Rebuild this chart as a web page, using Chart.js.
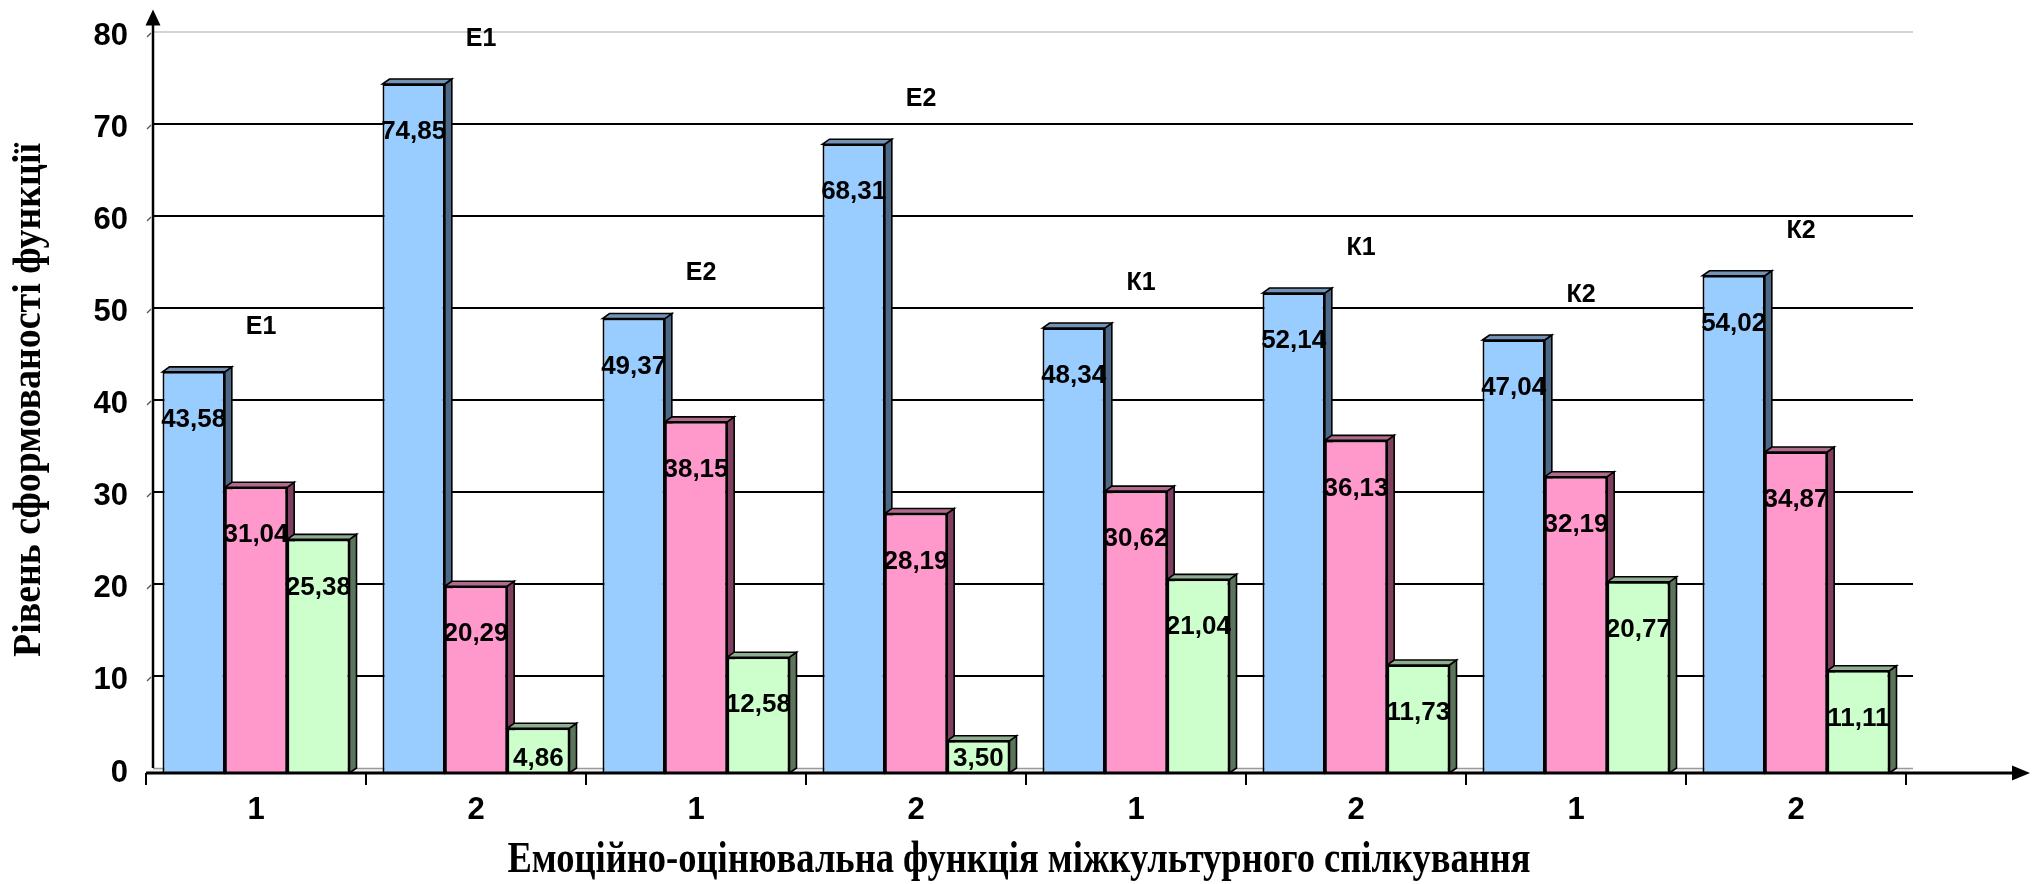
<!DOCTYPE html>
<html lang="uk">
<head>
<meta charset="utf-8">
<title>Емоційно-оцінювальна функція міжкультурного спілкування</title>
<script src="https://cdn.jsdelivr.net/npm/chart.js@4.4.1/dist/chart.umd.min.js"></script>
<style>
  html, body { margin: 0; padding: 0; background: #ffffff; }
  #wrap { width: 2042px; height: 884px; }
</style>
</head>
<body>
<div id="wrap"><canvas id="chart" width="2042" height="884"></canvas></div>
<script>
// Категорії (етапи) та групи
const categories = ['1', '2', '1', '2', '1', '2', '1', '2'];
const groupTags = ['Е1', 'Е1', 'Е2', 'Е2', 'К1', 'К1', 'К2', 'К2'];

// Значення рівнів сформованості (%)
const seriesHigh = [43.58, 74.85, 49.37, 68.31, 48.34, 52.14, 47.04, 54.02];
const seriesMid  = [31.04, 20.29, 38.15, 28.19, 30.62, 36.13, 32.19, 34.87];
const seriesLow  = [25.38, 4.86, 12.58, 3.50, 21.04, 11.73, 20.77, 11.11];

// Шкала осі Y
const yMin = 0;
const yMax = 80;
const yStep = 10;

const xTitle = 'Емоційно-оцінювальна функція міжкультурного спілкування';
const yTitle = 'Рівень сформованості функції';

// Кольори граней: передня, верхня, бічна
const faceColors = [
  { front: '#99CCFF', top: '#7393B6', side: '#4B6886' },
  { front: '#FF99CC', top: '#B36A8E', side: '#7E3F5E' },
  { front: '#CCFFCC', top: '#8FAE8F', side: '#5B755B' }
];

// Зсув глибини для об'ємного вигляду
const DEPTH_X = 7;
const DEPTH_Y = -5;

const fmt = v => v.toFixed(2).replace('.', ',');

// Текст, стиснутий по ширині до заданої довжини
function drawFitted(ctx, text, cx, cy, targetWidth) {
  const w = ctx.measureText(text).width;
  const k = Math.min(1, targetWidth / w);
  ctx.save();
  ctx.translate(cx, cy);
  ctx.scale(k, 1);
  ctx.fillText(text, 0, 0);
  ctx.restore();
}

const chart3d = {
  id: 'chart3d',
  beforeDatasetsDraw(chart) {
    const { ctx, chartArea: ca, scales: { y } } = chart;
    const wallL = ca.left + DEPTH_X;
    const wallR = ca.right + DEPTH_X;
    ctx.save();

    // Підлога
    const y0f = y.getPixelForValue(0);
    const y0b = y0f + DEPTH_Y;
    ctx.beginPath();
    ctx.moveTo(wallL, y0b);
    ctx.lineTo(wallR, y0b);
    ctx.lineTo(ca.right, y0f);
    ctx.lineTo(ca.left, y0f);
    ctx.closePath();
    ctx.fillStyle = '#f2f2f2';
    ctx.fill();
    ctx.strokeStyle = '#9a9a9a';
    ctx.lineWidth = 1.5;
    ctx.beginPath();
    ctx.moveTo(wallL, y0b + 0.5);
    ctx.lineTo(wallR, y0b + 0.5);
    ctx.stroke();

    // Лінії сітки на задній стінці
    for (let v = yMin + yStep; v <= yMax; v += yStep) {
      const yy = Math.round(y.getPixelForValue(v) + DEPTH_Y);
      ctx.beginPath();
      if (v === yMax) {
        ctx.strokeStyle = '#c4c4c4';
        ctx.lineWidth = 1.5;
      } else {
        ctx.strokeStyle = '#000000';
        ctx.lineWidth = 2.2;
      }
      ctx.moveTo(wallL, yy);
      ctx.lineTo(wallR, yy);
      ctx.stroke();
      // маленька похила засічка біля осі
      ctx.beginPath();
      ctx.strokeStyle = '#555555';
      ctx.lineWidth = 1.3;
      ctx.moveTo(ca.left + 1, yy - DEPTH_Y);
      ctx.lineTo(wallL - 2, yy + 1);
      ctx.stroke();
    }

    // Вісь Y зі стрілкою
    const tipY = ca.top - 27;
    ctx.strokeStyle = '#000000';
    ctx.lineWidth = 2.5;
    ctx.beginPath();
    ctx.moveTo(wallL, y0b);
    ctx.lineTo(wallL, tipY + 12);
    ctx.stroke();
    ctx.fillStyle = '#000000';
    ctx.beginPath();
    ctx.moveTo(wallL, tipY);
    ctx.lineTo(wallL - 7.5, tipY + 16);
    ctx.lineTo(wallL + 7.5, tipY + 16);
    ctx.closePath();
    ctx.fill();

    // Верхні та бічні грані стовпців
    chart.data.datasets.forEach((ds, i) => {
      const meta = chart.getDatasetMeta(i);
      const col = faceColors[i];
      meta.data.forEach(bar => {
        const p = bar.getProps(['x', 'y', 'base', 'width'], true);
        const l = p.x - p.width / 2;
        const r = p.x + p.width / 2;
        const t = p.y;
        const b = p.base;
        ctx.lineWidth = 1.6;
        ctx.strokeStyle = '#000000';
        // бічна грань
        ctx.beginPath();
        ctx.moveTo(r, t);
        ctx.lineTo(r + DEPTH_X, t + DEPTH_Y);
        ctx.lineTo(r + DEPTH_X, b + DEPTH_Y);
        ctx.lineTo(r, b);
        ctx.closePath();
        ctx.fillStyle = col.side;
        ctx.fill();
        ctx.stroke();
        // верхня грань
        ctx.beginPath();
        ctx.moveTo(l, t);
        ctx.lineTo(l + DEPTH_X, t + DEPTH_Y);
        ctx.lineTo(r + DEPTH_X, t + DEPTH_Y);
        ctx.lineTo(r, t);
        ctx.closePath();
        ctx.fillStyle = col.top;
        ctx.fill();
        ctx.stroke();
      });
    });
    ctx.restore();
  },
  afterDatasetsDraw(chart) {
    const { ctx, chartArea: ca, scales: { x, y } } = chart;
    ctx.save();
    const y0f = y.getPixelForValue(0);

    // Вісь X зі стрілкою
    ctx.strokeStyle = '#000000';
    ctx.fillStyle = '#000000';
    ctx.lineWidth = 3;
    ctx.beginPath();
    ctx.moveTo(ca.left, y0f);
    ctx.lineTo(2014, y0f);
    ctx.stroke();
    ctx.beginPath();
    ctx.moveTo(2030, y0f);
    ctx.lineTo(2012, y0f - 7.5);
    ctx.lineTo(2012, y0f + 7.5);
    ctx.closePath();
    ctx.fill();

    // Підписи значень
    ctx.font = 'bold 26px "Liberation Sans", Arial, sans-serif';
    ctx.textAlign = 'center';
    ctx.textBaseline = 'middle';
    chart.data.datasets.forEach((ds, i) => {
      const meta = chart.getDatasetMeta(i);
      meta.data.forEach((bar, j) => {
        const p = bar.getProps(['x', 'y', 'base'], true);
        const ly = Math.min(p.y + 48, p.base - 14);
        ctx.fillText(fmt(ds.data[j]), p.x, ly);
      });
    });

    // Позначки груп над стовпцями
    ctx.font = 'bold 25px "Liberation Sans", Arial, sans-serif';
    categories.forEach((c, j) => {
      const peak = Math.max(seriesHigh[j], seriesMid[j], seriesLow[j]);
      const cx = x.getPixelForValue(j) + 5;
      const cy = y.getPixelForValue(peak) - 45;
      ctx.fillText(groupTags[j], cx, cy);
    });

    // Назви осей
    ctx.textBaseline = 'alphabetic';
    ctx.font = 'bold 44px "Liberation Serif", "Times New Roman", serif';
    drawFitted(ctx, xTitle, 1019, 872, 1023);
    ctx.translate(40, 400);
    ctx.rotate(-Math.PI / 2);
    ctx.font = 'bold 40px "Liberation Serif", "Times New Roman", serif';
    drawFitted(ctx, yTitle, 0, 0, 514);
    ctx.restore();
  }
};

new Chart(document.getElementById('chart'), {
  type: 'bar',
  data: {
    labels: categories,
    datasets: [
      { label: 'Ряд1', data: seriesHigh, backgroundColor: faceColors[0].front },
      { label: 'Ряд2', data: seriesMid, backgroundColor: faceColors[1].front },
      { label: 'Ряд3', data: seriesLow, backgroundColor: faceColors[2].front }
    ]
  },
  options: {
    responsive: false,
    animation: false,
    devicePixelRatio: 1,
    layout: { padding: { left: 0, right: 136, top: 33.6, bottom: 0 } },
    datasets: {
      bar: {
        borderColor: '#000000',
        borderWidth: 2,
        categoryPercentage: 0.85,
        barPercentage: 1.0
      }
    },
    plugins: {
      legend: { display: false },
      tooltip: { enabled: false },
      title: { display: false }
    },
    scales: {
      x: {
        offset: true,
        border: { display: false },
        grid: {
          display: true,
          drawOnChartArea: false,
          drawTicks: true,
          tickLength: 12,
          color: '#000000',
          lineWidth: 2,
          offset: true
        },
        ticks: {
          color: '#000000',
          padding: 7,
          font: { family: '"Liberation Sans", Arial, sans-serif', weight: 'bold', size: 31 }
        },
        afterFit(scale) { scale.height = 111; }
      },
      y: {
        min: yMin,
        max: yMax,
        border: { display: false },
        grid: { display: false, drawTicks: false },
        ticks: {
          stepSize: yStep,
          color: '#000000',
          padding: 18,
          font: { family: '"Liberation Sans", Arial, sans-serif', weight: 'bold', size: 31 }
        },
        afterFit(scale) { scale.width = 146; }
      }
    }
  },
  plugins: [chart3d]
});
</script>
</body>
</html>
